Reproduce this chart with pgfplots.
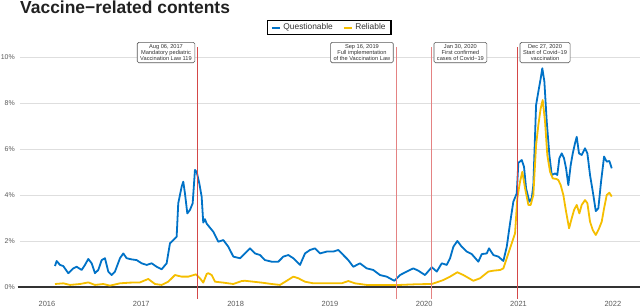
\documentclass[border=0pt]{standalone}
\usepackage{fontspec}
\setmainfont{Liberation Sans}
\usepackage{pgfplots}
\pgfplotsset{compat=1.18}
\definecolor{qblue}{RGB}{0,114,199}
\definecolor{ryell}{RGB}{245,190,0}
\definecolor{lawred}{RGB}{212,72,72}
\definecolor{lawpink}{RGB}{228,130,130}
\definecolor{gridc}{RGB}{222,222,222}
\definecolor{tickc}{RGB}{90,90,90}
\begin{document}
\begin{tikzpicture}
\path[use as bounding box] (0,0) rectangle (640bp,308bp);
\node[anchor=base west, inner sep=0pt, text=black!87, font=\fontsize{17.5}{20}\selectfont\bfseries] at (20bp,294bp) {Vaccine−related contents};
\begin{axis}[
  at={(20bp,9.5bp)}, anchor=south west,
  scale only axis, width=620bp, height=253bp,
  xmin=2015.714, xmax=2022.288, ymin=-0.5, ymax=10.5,
  clip=false,
  axis line style={draw=none},
  major tick length=0pt,
  ymajorgrids, grid style={draw=gridc, line width=0.9bp},
  ytick={0,2,4,6,8,10},
  xtick={2016,2017,2018,2019,2020,2021,2022},
  /pgf/number format/assume math mode=true,
  /pgf/number format/1000 sep={},
  yticklabel={\pgfmathprintnumber{\tick}\%},
  yticklabel style={anchor=east, inner sep=0pt, xshift=-5bp, text=tickc, font=\fontsize{7}{8}\selectfont},
  xticklabel style={anchor=north, inner sep=0pt, yshift=-2.5bp, text=tickc, font=\fontsize{7.5}{8}\selectfont},
  legend style={at={(0.4988,1.071)}, anchor=center, draw=black, line width=1.3bp,
    font=\fontsize{8.4}{9}\selectfont, text=black!80, inner xsep=3.5bp, inner ysep=1.5bp,
    /tikz/every even column/.append style={column sep=8bp}},
  legend columns=2,
  legend image code/.code={\draw[#1, line width=2bp] (0bp,0bp) -- (8.5bp,0bp);},
]
\addplot[forget plot, draw=black!80, line width=1.6bp] coordinates {(2015.69,0) (2022.288,0)};
\addplot[qblue, line width=1.8bp, line join=round] coordinates {
(2016.085,0.91) (2016.103,1.13) (2016.138,0.96) (2016.173,0.91) (2016.226,0.60)
(2016.279,0.81) (2016.315,0.88) (2016.368,0.74) (2016.403,0.96) (2016.438,1.22)
(2016.474,1.03) (2016.509,0.60) (2016.544,0.74) (2016.580,1.17) (2016.615,1.25)
(2016.650,0.67) (2016.686,0.52) (2016.721,0.67) (2016.774,1.25) (2016.809,1.46)
(2016.845,1.25) (2016.898,1.20) (2016.951,1.17) (2017.004,1.03) (2017.057,0.96)
(2017.110,1.03) (2017.163,0.88) (2017.216,0.77) (2017.269,1.03) (2017.304,1.90)
(2017.339,2.04) (2017.375,2.19) (2017.392,3.64) (2017.428,4.36) (2017.445,4.58)
(2017.463,4.07) (2017.488,3.20) (2017.516,3.35) (2017.545,3.64) (2017.569,5.09)
(2017.587,5.01) (2017.615,4.51) (2017.640,3.93) (2017.657,2.80) (2017.675,2.95)
(2017.694,2.75) (2017.764,2.40) (2017.817,1.97) (2017.870,2.04) (2017.923,1.75)
(2017.976,1.32) (2018.047,1.25) (2018.100,1.46) (2018.153,1.68) (2018.206,1.46)
(2018.259,1.39) (2018.312,1.17) (2018.383,1.10) (2018.453,1.10) (2018.506,1.32)
(2018.559,1.39) (2018.612,1.25) (2018.683,0.96) (2018.736,1.46) (2018.789,1.61)
(2018.842,1.68) (2018.895,1.46) (2018.966,1.54) (2019.036,1.54) (2019.089,1.61)
(2019.142,1.39) (2019.195,1.17) (2019.248,0.88) (2019.319,1.03) (2019.390,0.81)
(2019.460,0.74) (2019.531,0.52) (2019.602,0.45) (2019.683,0.27) (2019.743,0.52)
(2019.814,0.67) (2019.884,0.81) (2019.937,0.71) (2020.008,0.52) (2020.080,0.86)
(2020.133,0.67) (2020.186,1.03) (2020.239,0.96) (2020.274,1.25) (2020.309,1.75)
(2020.351,2.00) (2020.398,1.75) (2020.451,1.54) (2020.504,1.43) (2020.574,1.10)
(2020.610,1.43) (2020.663,1.46) (2020.687,1.68) (2020.733,1.39) (2020.786,1.32)
(2020.839,1.13) (2020.875,1.75) (2020.910,2.77) (2020.945,3.71) (2020.981,4.07)
(2020.998,5.40) (2021.034,5.52) (2021.058,5.23) (2021.080,4.29) (2021.115,3.71)
(2021.140,3.86) (2021.157,4.43) (2021.186,7.91) (2021.210,8.49) (2021.235,9.07)
(2021.252,9.51) (2021.274,8.93) (2021.299,7.19) (2021.327,5.74) (2021.352,4.87)
(2021.387,4.94) (2021.411,4.87) (2021.433,5.60) (2021.458,5.81) (2021.482,5.60)
(2021.504,5.16) (2021.528,4.43) (2021.553,5.30) (2021.575,5.81) (2021.599,6.25)
(2021.617,6.53) (2021.641,5.81) (2021.670,5.74) (2021.705,6.03) (2021.730,5.81)
(2021.758,4.87) (2021.793,4.00) (2021.819,3.30) (2021.846,3.42) (2021.875,4.58)
(2021.907,5.67) (2021.935,5.45) (2021.963,5.48) (2021.988,5.16)
};
\addlegendentry{Questionable}
\addplot[ryell, line width=1.8bp, line join=round] coordinates {
(2016.085,0.13) (2016.173,0.16) (2016.244,0.09) (2016.350,0.13) (2016.438,0.20)
(2016.509,0.09) (2016.597,0.13) (2016.668,0.06) (2016.774,0.16) (2016.880,0.19)
(2016.986,0.20) (2017.074,0.35) (2017.145,0.13) (2017.216,0.09) (2017.286,0.23)
(2017.357,0.52) (2017.428,0.45) (2017.498,0.45) (2017.580,0.55) (2017.622,0.38)
(2017.657,0.19) (2017.694,0.57) (2017.711,0.60) (2017.747,0.52) (2017.782,0.23)
(2017.870,0.19) (2017.976,0.13) (2018.065,0.26) (2018.100,0.27) (2018.188,0.23)
(2018.277,0.19) (2018.383,0.13) (2018.471,0.09) (2018.542,0.27) (2018.612,0.45)
(2018.665,0.38) (2018.736,0.23) (2018.824,0.16) (2018.930,0.16) (2019.036,0.16)
(2019.125,0.16) (2019.195,0.26) (2019.266,0.16) (2019.390,0.09) (2019.566,0.09)
(2019.743,0.09) (2019.920,0.12) (2020.080,0.13) (2020.202,0.30) (2020.274,0.45)
(2020.351,0.64) (2020.415,0.52) (2020.521,0.27) (2020.592,0.38) (2020.680,0.67)
(2020.733,0.71) (2020.804,0.74) (2020.839,0.81) (2020.875,1.25) (2020.928,1.90)
(2020.963,2.33) (2020.987,3.86) (2021.016,4.58) (2021.040,5.01) (2021.069,4.29)
(2021.104,3.57) (2021.129,3.57) (2021.157,4.00) (2021.186,6.17) (2021.210,7.04)
(2021.235,7.77) (2021.256,8.13) (2021.281,7.19) (2021.305,5.74) (2021.334,5.01)
(2021.363,4.72) (2021.398,4.70) (2021.422,4.65) (2021.447,4.43) (2021.475,4.00)
(2021.504,3.28) (2021.536,2.55) (2021.564,2.99) (2021.589,3.35) (2021.617,3.57)
(2021.645,3.20) (2021.670,3.57) (2021.705,3.78) (2021.730,3.64) (2021.758,2.84)
(2021.787,2.48) (2021.819,2.26) (2021.854,2.55) (2021.882,2.84) (2021.907,3.42)
(2021.935,4.00) (2021.963,4.10) (2021.988,3.93)
};
\addlegendentry{Reliable}
\addplot[forget plot, draw=lawred, line width=1.2bp] coordinates {(2017.595,-0.5) (2017.595,10.45)};
\addplot[forget plot, draw=lawpink, line width=1.5bp] coordinates {(2019.707,-0.5) (2019.707,10.45)};
\addplot[forget plot, draw=lawpink, line width=1.5bp] coordinates {(2020.079,-0.5) (2020.079,10.45)};
\addplot[forget plot, draw=lawred, line width=1.2bp] coordinates {(2020.986,-0.5) (2020.986,10.45)};
\tikzset{ann/.style={draw=black!65, fill=white, rounded corners=1.5bp, line width=0.6bp, align=center,
  inner xsep=3bp, inner ysep=1.8bp, text=black!80, font=\fontsize{5.7}{6.4}\selectfont}}
\node[ann, anchor=north east, xshift=-2.3bp] at (axis cs:2017.595,10.65) {Aug 06, 2017\\Mandatory pediatric\\Vaccination Law 119};
\node[ann, anchor=north east, xshift=-3bp] at (axis cs:2019.707,10.65) {Sep 16, 2019\\Full implementation\\of the Vaccination Law};
\node[ann, anchor=north west, xshift=2bp] at (axis cs:2020.079,10.65) {Jan 30, 2020\\First confirmed\\cases of Covid−19};
\node[ann, anchor=north west, xshift=2.5bp] at (axis cs:2020.986,10.65) {Dec 27, 2020\\Start of Covid−19\\vaccination};
\end{axis}
\end{tikzpicture}
\end{document}
